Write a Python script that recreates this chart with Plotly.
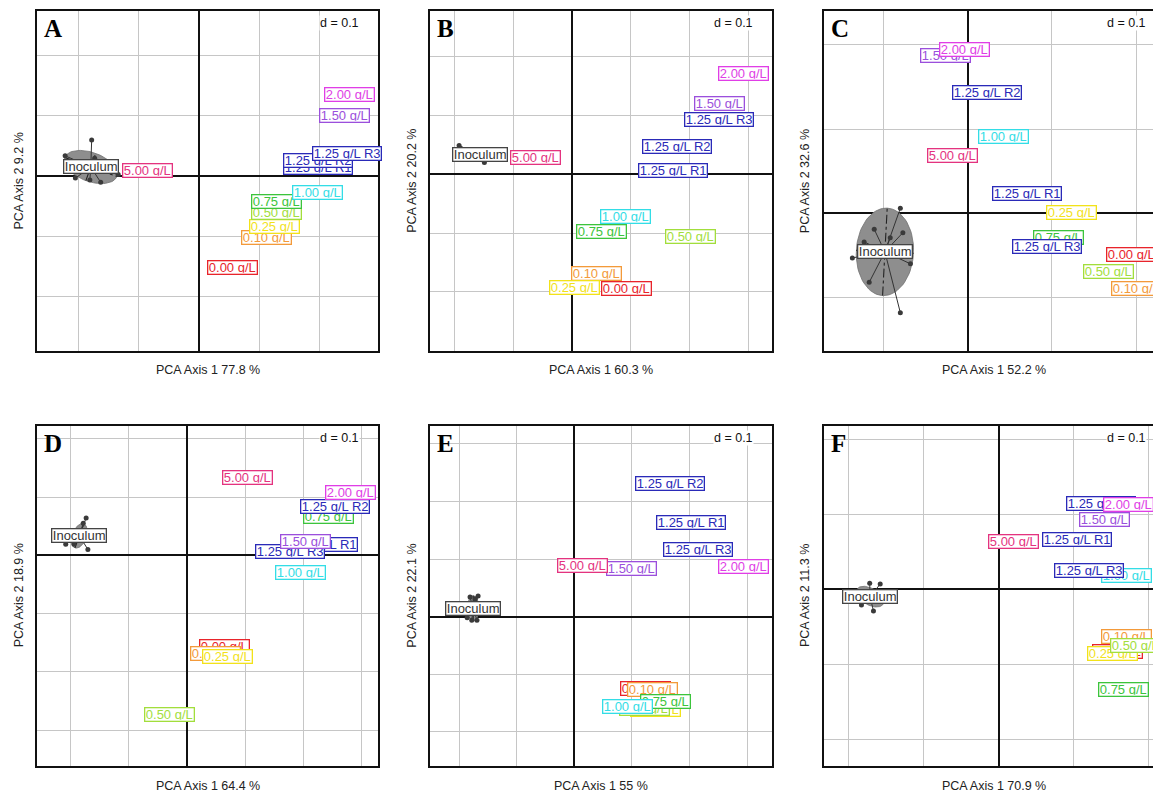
import numpy as np
import plotly.graph_objects as go

# the page body has an 8px margin, so the figure is drawn 8px in from the window edge
OFF = 8
W, H = 1161 - OFF, 794 - OFF

# class labels, drawn in this order (later ones on top)
groups = ["0.00 g/L", "0.10 g/L", "0.25 g/L", "0.50 g/L", "0.75 g/L", "1.00 g/L",
          "1.25 g/L R1", "1.25 g/L R2", "1.25 g/L R3", "1.50 g/L", "2.00 g/L", "5.00 g/L"]
group_colors = ["#e8242b", "#f39a3a", "#f2e21a", "#a2de3c", "#3cc43c", "#33dde6",
                "#2a2ab8", "#2a2ab8", "#2a2ab8", "#9b4fdc", "#e03ee6", "#e4337f"]

panel_letters = ["A", "B", "C", "D", "E", "F"]
axis1_pct = ["77.8", "60.3", "52.2", "64.4", "55", "70.9"]
axis2_pct = ["9.2", "20.2", "32.6", "18.9", "22.1", "11.3"]

# class centroids (PCA axis 1, axis 2)
A_x = [0.055, 0.112, 0.125, 0.128, 0.128, 0.197, 0.197, 0.197, 0.245, 0.241, 0.250, -0.085]
A_y = [-0.153, -0.102, -0.084, -0.061, -0.042, -0.028, 0.013, 0.025, 0.037, 0.099, 0.135, 0.008]
B_x = [0.093, 0.041, 0.004, 0.202, 0.050, 0.091, 0.171, 0.179, 0.250, 0.250, 0.291, -0.062]
B_y = [-0.195, -0.168, -0.192, -0.105, -0.098, -0.071, 0.007, 0.048, 0.094, 0.121, 0.172, 0.029]
C_x = [0.195, 0.200, 0.123, 0.167, 0.108, 0.042, 0.070, 0.023, 0.094, -0.026, -0.004, -0.018]
C_y = [-0.049, -0.089, 0.001, -0.069, -0.029, 0.091, 0.023, 0.144, -0.039, 0.187, 0.194, 0.069]
D_x = [0.065, 0.049, 0.070, -0.030, 0.243, 0.195, 0.234, 0.254, 0.177, 0.203, 0.280, 0.103]
D_y = [-0.157, -0.169, -0.173, -0.273, 0.067, -0.029, 0.018, 0.084, 0.007, 0.024, 0.107, 0.133]
E_x = [0.123, 0.135, 0.141, 0.121, 0.158, 0.093, 0.203, 0.167, 0.214, 0.099, 0.293, 0.015]
E_y = [-0.125, -0.126, -0.161, -0.160, -0.147, -0.156, 0.164, 0.232, 0.116, 0.083, 0.087, 0.089]
F_x = [0.158, 0.170, 0.152, 0.183, 0.166, 0.170, 0.104, 0.137, 0.120, 0.141, 0.173, 0.020]
F_y = [-0.083, -0.063, -0.086, -0.075, -0.133, 0.018, 0.067, 0.114, 0.025, 0.093, 0.113, 0.064]

# inoculum replicates
A_inoc_x = [-0.222, -0.178, -0.181, -0.163, -0.134, -0.173, -0.205]
A_inoc_y = [0.033, 0.059, -0.007, -0.011, 0.002, 0.029, -0.004]
B_inoc_x = [-0.192, -0.149, -0.150, -0.137]
B_inoc_y = [0.049, 0.020, 0.035, 0.028]
C_inoc_x = [-0.080, -0.111, -0.092, -0.077, -0.123, -0.137, -0.068, -0.117, -0.080]
C_inoc_y = [0.006, -0.019, -0.029, -0.023, -0.034, -0.053, -0.060, -0.082, -0.118]
D_inoc_x = [-0.173, -0.170, -0.208, -0.194, -0.178]
D_inoc_y = [0.064, 0.010, 0.019, 0.019, 0.055]
E_inoc_x = [-0.181, -0.167, -0.172, -0.178, -0.169, -0.186]
E_inoc_y = [0.034, 0.036, 0.031, -0.006, -0.006, -0.002]
F_inoc_x = [-0.172, -0.158, -0.183, -0.167, -0.177]
F_inoc_y = [0.008, 0.007, -0.021, -0.029, -0.014]

# inoculum ellipse: semi axes and angle (deg)
ell_a = [0.046, 0.020, 0.052, 0.022, 0.022, 0.020]
ell_b = [0.024, 0.006, 0.034, 0.012, 0.010, 0.011]
ell_ang = [-20, -30, 87, 70, 90, -30]

centroids = [(A_x, A_y), (B_x, B_y), (C_x, C_y), (D_x, D_y), (E_x, E_y), (F_x, F_y)]
inocs = [(A_inoc_x, A_inoc_y), (B_inoc_x, B_inoc_y), (C_inoc_x, C_inoc_y),
         (D_inoc_x, D_inoc_y), (E_inoc_x, E_inoc_y), (F_inoc_x, F_inoc_y)]

# panel frames in window px (left, right, top, bottom), origin px and px per unit
frames = [(37, 378, 11, 351), (430.3, 771.7, 11, 351), (823.7, 1164.7, 11, 351),
          (37, 378.3, 425.7, 766), (430.3, 771.7, 425.7, 766), (823.7, 1164.7, 425.7, 766)]
origins = [(199, 175.7), (572, 174.3), (967.7, 213.3), (187, 555.3), (574.3, 616.7), (998.7, 589.3)]
scales = [603, 588, 842, 583, 576, 750]

FONT = "Arial, Liberation Sans, sans-serif"


def px_x(v):
    return (v - OFF) / W


def px_y(v):
    return 1 - (v - OFF) / H


fig = go.Figure()
annotations = []
layout = {}

for i in range(6):
    sfx = "" if i == 0 else str(i + 1)
    xr, yr = "x" + sfx, "y" + sfx
    left, right, top, bottom = frames[i]
    ox, oy = origins[i]
    s = scales[i]
    vis_right = min(right, 1161)
    cut = right > 1161

    layout["xaxis" + sfx] = dict(
        domain=[px_x(left), px_x(vis_right)], anchor=yr,
        range=[(left - ox) / s, (vis_right - ox) / s],
        dtick=0.1, tick0=0, showgrid=True, gridcolor="#c6c6c6", gridwidth=1.4,
        zeroline=True, zerolinecolor="#111", zerolinewidth=1.5,
        showline=True, linecolor="#111", linewidth=1.8, mirror=True,
        showticklabels=False, ticks="", fixedrange=True)
    layout["yaxis" + sfx] = dict(
        domain=[px_y(bottom), px_y(top)], anchor=xr,
        range=[(oy - bottom) / s, (oy - top) / s],
        dtick=0.1, tick0=0, showgrid=True, gridcolor="#c6c6c6", gridwidth=1.4,
        zeroline=True, zerolinecolor="#111", zerolinewidth=1.5,
        showline=True, linecolor="#111", linewidth=1.8, mirror=not cut,
        showticklabels=False, ticks="", fixedrange=True)

    # inoculum: ellipse, star and points
    px, py = inocs[i]
    cx, cy = float(np.mean(px)), float(np.mean(py))
    t = np.linspace(0, 2 * np.pi, 80)
    th = np.deg2rad(ell_ang[i])
    a, b = ell_a[i], ell_b[i]
    ex = cx + a * np.cos(t) * np.cos(th) - b * np.sin(t) * np.sin(th)
    ey = cy + a * np.cos(t) * np.sin(th) + b * np.sin(t) * np.cos(th)
    fig.add_trace(go.Scatter(x=ex, y=ey, xaxis=xr, yaxis=yr, mode="lines", fill="toself",
                             fillcolor="#8e8e8e", line=dict(color="#707070", width=0.8),
                             hoverinfo="skip", showlegend=False))
    axx = [cx - a * np.cos(th), cx + a * np.cos(th), None,
           cx + b * np.sin(th), cx - b * np.sin(th)]
    axy = [cy - a * np.sin(th), cy + a * np.sin(th), None,
           cy - b * np.cos(th), cy + b * np.cos(th)]
    fig.add_trace(go.Scatter(x=axx, y=axy, xaxis=xr, yaxis=yr, mode="lines",
                             line=dict(color="#222", width=1.1, dash="dashdot"),
                             hoverinfo="skip", showlegend=False))
    sx, sy = [], []
    for u, v in zip(px, py):
        sx += [cx, u, None]
        sy += [cy, v, None]
    fig.add_trace(go.Scatter(x=sx, y=sy, xaxis=xr, yaxis=yr, mode="lines",
                             line=dict(color="#333", width=1), hoverinfo="skip", showlegend=False))
    fig.add_trace(go.Scatter(x=px, y=py, xaxis=xr, yaxis=yr, mode="markers",
                             marker=dict(color="#3a3a3a", size=5), showlegend=False))

    # labels
    box = dict(xref=xr, yref=yr, showarrow=False, bgcolor="white", borderwidth=1.3,
               borderpad=0.5, height=11)
    annotations.append(dict(box, x=cx, y=cy, text="Inoculum", bordercolor="#444",
                            font=dict(family=FONT, size=13, color="#333")))
    gx, gy = centroids[i]
    for name, col, u, v in zip(groups, group_colors, gx, gy):
        annotations.append(dict(box, x=u, y=v, text=name, bordercolor=col,
                                font=dict(family=FONT, size=13, color=col)))

    # d = 0.1, panel letter, axis titles
    annotations.append(dict(xref="paper", yref="paper", x=px_x(right - 18), y=px_y(top + 12),
                            xanchor="right", yanchor="middle", showarrow=False, text="d = 0.1",
                            bgcolor="white", borderpad=0,
                            font=dict(family=FONT, size=12.5, color="#111")))
    annotations.append(dict(xref="paper", yref="paper", x=px_x(left + 5), y=px_y(top + 18),
                            xanchor="left", yanchor="middle", showarrow=False,
                            text="<b>" + panel_letters[i] + "</b>",
                            font=dict(family="Liberation Serif, Times New Roman, serif", size=25,
                                      color="#000")))
    annotations.append(dict(xref="paper", yref="paper", x=px_x((left + right) / 2),
                            y=px_y(bottom + 19.5), xanchor="center", yanchor="middle",
                            showarrow=False, text="PCA Axis 1 " + axis1_pct[i] + " %",
                            font=dict(family=FONT, size=12.5, color="#222")))
    annotations.append(dict(xref="paper", yref="paper", x=px_x(left - 18.5),
                            y=px_y((top + bottom) / 2), xanchor="center", yanchor="middle",
                            textangle=-90, showarrow=False,
                            text="PCA Axis 2 " + axis2_pct[i] + " %",
                            font=dict(family=FONT, size=12.5, color="#222")))

fig.update_layout(**layout)
fig.update_layout(width=W, height=H, margin=dict(l=0, r=0, t=0, b=0),
                  paper_bgcolor="white", plot_bgcolor="white",
                  showlegend=False, annotations=annotations)

fig.write_html("out.html")
